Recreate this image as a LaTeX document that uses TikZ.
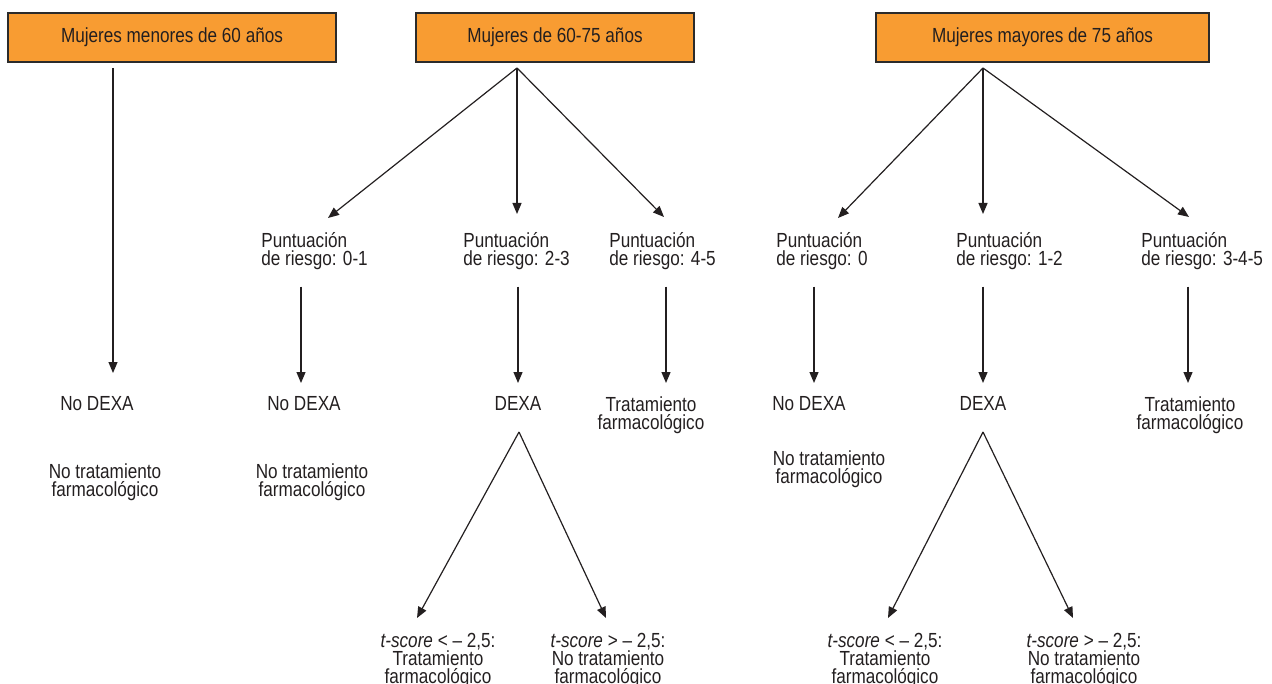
\documentclass[tikz,border=0pt]{standalone}
\usepackage{fontspec}
\setmainfont{Liberation Sans}[FakeStretch=0.84]
\usetikzlibrary{arrows.meta}
\definecolor{ageorange}{HTML}{F89C32}
\definecolor{boxedge}{HTML}{2B2B2B}
\definecolor{inkgray}{HTML}{231F20}

\begin{document}
\begin{tikzpicture}[
    x=0.5pt, y=-0.5pt,
    font=\fontsize{10.2}{9}\selectfont,
    every node/.style={text=inkgray, inner sep=0pt},
    agebox/.style={draw=boxedge, fill=ageorange, line width=0.6pt, minimum height=24.5pt},
    scorelbl/.style={align=left, anchor=base west},
    outcome/.style={align=center, anchor=base},
    tscore/.style={align=center, anchor=base},
    arrow/.style={-{Triangle[length=5.5pt, width=4.5pt]}, line width=0.6pt, draw=inkgray}
]
\useasboundingbox (0,0) rectangle (1272,684);

% age groups
\node[agebox, minimum width=164pt] (young) at (172,37.5) {Mujeres menores de 60 años};
\node[agebox, minimum width=139pt] (middle) at (555,37.5) {Mujeres de 60-75 años};
\node[agebox, minimum width=166.5pt] (old) at (1042.5,37.5) {Mujeres mayores de 75 años};

% risk scores (base = last line)
\node[scorelbl] (scA) at (261,265) {Puntuación\\de riesgo: 0-1};
\node[scorelbl] (scB) at (463,265) {Puntuación\\de riesgo: 2-3};
\node[scorelbl] (scC) at (609,265) {Puntuación\\de riesgo: 4-5};
\node[scorelbl] (scD) at (776,265) {Puntuación\\de riesgo: 0};
\node[scorelbl] (scE) at (956,265) {Puntuación\\de riesgo: 1-2};
\node[scorelbl] (scF) at (1141,265) {Puntuación\\de riesgo: 3-4-5};

% decisions
\node[outcome] (nd0) at (97,410) {No DEXA};
\node[outcome] (nt0) at (105,496) {No tratamiento\\farmacológico};
\node[outcome] (ndA) at (304,410) {No DEXA};
\node[outcome] (ntA) at (312,496) {No tratamiento\\farmacológico};
\node[outcome] (dxB) at (518,410) {DEXA};
\node[outcome] (trC) at (651,429) {Tratamiento\\farmacológico};
\node[outcome] (ndD) at (809,410) {No DEXA};
\node[outcome] (ntD) at (829,483) {No tratamiento\\farmacológico};
\node[outcome] (dxE) at (983,410) {DEXA};
\node[outcome] (trF) at (1190,429) {Tratamiento\\farmacológico};

% t-score results
\node[tscore] (lowB) at (438,683) {\textit{t-score} < – 2,5:\\Tratamiento\\farmacológico};
\node[tscore] (highB) at (608,683) {\textit{t-score} > – 2,5:\\No tratamiento\\farmacológico};
\node[tscore] (lowE) at (885,683) {\textit{t-score} < – 2,5:\\Tratamiento\\farmacológico};
\node[tscore] (highE) at (1084,683) {\textit{t-score} > – 2,5:\\No tratamiento\\farmacológico};

% fork points and arrow tips
\coordinate (fork1) at (113,68);
\coordinate (fork2) at (517,68);
\coordinate (fork3) at (983,68);
\coordinate (forkB) at (519,432);
\coordinate (forkE) at (983,432);

\draw[arrow] (fork1) -- (113,373) coordinate (t0);
\draw[arrow] (fork2) -- (328,218) coordinate (tA);
\draw[arrow] (fork2) -- (517,214) coordinate (tB);
\draw[arrow] (fork2) -- (664,217) coordinate (tC);
\draw[arrow] (fork3) -- (838,218) coordinate (tD);
\draw[arrow] (fork3) -- (983,214) coordinate (tE);
\draw[arrow] (fork3) -- (1189,217) coordinate (tF);

\draw[arrow] (scA.south -| 301,0) ++(0,17) -- (301,383);
\draw[arrow] (scB.south -| 518,0) ++(0,17) -- (518,383);
\draw[arrow] (scC.south -| 666,0) ++(0,17) -- (666,383);
\draw[arrow] (scD.south -| 814,0) ++(0,17) -- (814,383);
\draw[arrow] (scE.south -| 983,0) ++(0,17) -- (983,383);
\draw[arrow] (scF.south -| 1188,0) ++(0,17) -- (1188,383);

\draw[arrow] (forkB) -- (417,618);
\draw[arrow] (forkB) -- (606,618);
\draw[arrow] (forkE) -- (888,618);
\draw[arrow] (forkE) -- (1073,618);
\end{tikzpicture}
\end{document}
